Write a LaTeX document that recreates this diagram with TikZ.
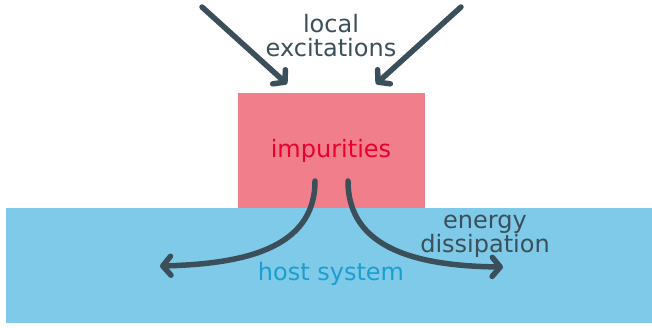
\documentclass[tikz,border=0pt]{standalone}
\usepackage{fontspec}
\setmainfont{DejaVu Sans}
\usetikzlibrary{arrows.meta}
\definecolor{impink}{HTML}{F07F8B}
\definecolor{hostblue}{HTML}{7FCAE8}
\definecolor{slate}{HTML}{3B4F5B}
\definecolor{impred}{HTML}{E8002F}
\definecolor{hosttext}{HTML}{1A9FD0}
\tikzset{
  flow/.style={draw=slate, line width=5.5bp, line cap=round,
    -{Straight Barb[length=8bp,width=19bp,round]}},
  lbl/.style={font=\fontsize{24bp}{24bp}\selectfont, align=center, inner sep=0pt, anchor=base},
}
\begin{document}
\begin{tikzpicture}[x=1bp,y=-1bp]
  \useasboundingbox (0,0) rectangle (652,327);
  % host system slab and impurity block
  \fill[hostblue] (6,208) rectangle (652,323);
  \fill[impink] (238,93) rectangle (425,208);
  \node[lbl, text=hosttext] (host) at (331,280) {host system};
  \node[lbl, text=impred] (imp) at (331,157) {impurities};
  % incoming excitations (base anchor sits on the last line)
  \node[lbl, text=slate] (exc) at (331,56) {local\\excitations};
  \coordinate (inL) at (202,7);
  \coordinate (inR) at (461,7);
  \coordinate (tipL) at (287,84);
  \coordinate (tipR) at (376,84);
  \draw[flow] (inL) -- (tipL);
  \draw[flow] (inR) -- (tipR);
  % dissipation into host
  \node[lbl, text=slate] (diss) at (485,252) {energy\\dissipation};
  \coordinate (outL0) at (315,181);
  \coordinate (outR0) at (348,181);
  \coordinate (outL) at (160,266);
  \coordinate (outR) at (503,267);
  \draw[flow] (outL0) .. controls (315,250) and (240,264) .. (outL);
  \draw[flow] (outR0) .. controls (348,250) and (420,266) .. (outR);
\end{tikzpicture}
\end{document}
